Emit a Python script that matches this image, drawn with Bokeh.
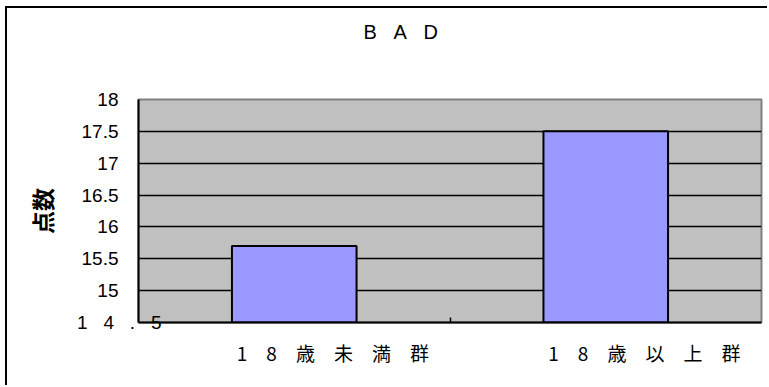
from bokeh.plotting import figure
from bokeh.models import Range1d, FixedTicker, LinearAxis, ColumnDataSource
from bokeh.embed import file_html
from bokeh.resources import INLINE

# Chart texts and values
title_text = "B\u00a0\u00a0\u00a0A\u00a0\u00a0\u00a0D"
categories = ["1\u30008\u3000歳\u3000未\u3000満\u3000群", "1\u30008\u3000歳\u3000以\u3000上\u3000群"]
scores = [15.7, 17.5]
y_ticks = [14.5, 15, 15.5, 16, 16.5, 17, 17.5, 18]
y_tick_labels = ["", "15", "15.5", "16", "16.5", "17", "17.5", "18"]
y_base_label = "1\u2002\u20044\u2002\u2004.\u2002\u20045"
y_axis_title = "点数"

LATIN = "Liberation Sans"
CJK = "Noto Sans CJK JP"
bar_width = 0.4
label_shift = 0.124   # group names sit a little right of the bar centres

n = len(categories)
p = figure(
    width=762, height=379,
    x_range=Range1d(0, n), y_range=Range1d(y_ticks[0], y_ticks[-1]),
    output_backend="svg", toolbar_location=None,
    min_border_left=131, min_border_right=8, min_border_top=91, min_border_bottom=65,
    background_fill_color="#C0C0C0", border_fill_color="white",
    outline_line_color="#808080", outline_line_width=2,
)
p.margin = (6, 0, 0, 5)
p.styles = {"border-top": "2px solid black", "border-left": "2px solid black"}

# title, kept high above the plot by two empty lines beneath it
p.title.text = title_text + "\n\n"
p.title.align = "left"
p.title.offset = 225
p.title.standoff = 4
p.title.text_font = LATIN
p.title.text_font_size = "20px"
p.title.text_line_height = 1.25
p.title.text_font_style = "normal"
p.title.text_color = "black"

# horizontal grid lines between the axis and the top edge
p.xgrid.visible = False
p.ygrid.ticker = FixedTicker(ticks=y_ticks[1:-1])
p.ygrid.grid_line_color = "black"
p.ygrid.grid_line_width = 1.5

# bars
centers = [i + 0.5 for i in range(n)]
src = ColumnDataSource(dict(x=centers, top=scores))
p.vbar(x="x", top="top", bottom=y_ticks[0], width=bar_width, source=src,
       fill_color="#9999FF", line_color="black", line_width=2)

# x axis: group names, and one tick between the groups
label_pos = [c + label_shift for c in centers]
xa = p.xaxis[0]
xa.ticker = FixedTicker(ticks=label_pos, minor_ticks=[i for i in range(1, n)])
xa.major_label_overrides = dict(zip(label_pos, categories))
xa.major_label_text_font = CJK
xa.major_label_text_font_size = "19px"
xa.major_label_text_color = "black"
xa.major_label_standoff = 16
xa.axis_line_color = "black"
xa.axis_line_width = 2
xa.major_tick_in = 0
xa.major_tick_out = 0
xa.minor_tick_in = 5
xa.minor_tick_out = 0
xa.minor_tick_line_color = "black"
xa.minor_tick_line_width = 1.5

# y axis
ya = p.yaxis[0]
ya.ticker = FixedTicker(ticks=y_ticks)
ya.major_label_overrides = dict(zip(y_ticks, y_tick_labels))
ya.axis_line_color = "black"
ya.axis_line_width = 2
ya.major_tick_in = 0
ya.major_tick_out = 0
ya.minor_tick_in = 0
ya.minor_tick_out = 0
ya.major_label_standoff = 20
ya.major_label_text_font = LATIN
ya.major_label_text_font_size = "19px"
ya.major_label_text_color = "black"
ya.axis_label = y_axis_title
ya.axis_label_text_font = CJK
ya.axis_label_text_font_size = "23px"
ya.axis_label_text_font_style = "bold"
ya.axis_label_text_color = "black"
ya.axis_label_standoff = 20

# the lowest value label, which runs on past the axis into the plot
yb = LinearAxis(ticker=FixedTicker(ticks=y_ticks[:1]),
                major_label_overrides={y_ticks[0]: y_base_label})
yb.axis_line_color = None
yb.major_tick_in = 0
yb.major_tick_out = 0
yb.minor_tick_in = 0
yb.minor_tick_out = 0
yb.major_label_standoff = -140
yb.major_label_text_font = LATIN
yb.major_label_text_font_size = "19px"
yb.major_label_text_color = "black"
p.add_layout(yb, "left")

open("out.html", "w").write(file_html(p, INLINE))
